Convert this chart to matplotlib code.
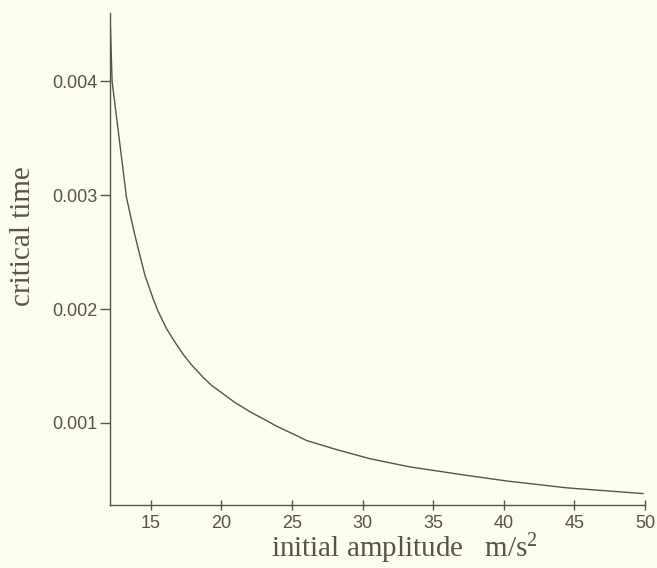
import matplotlib
matplotlib.use("Agg")
import matplotlib.pyplot as plt
from matplotlib.ticker import FixedLocator, FormatStrFormatter

# superscript in the unit label drawn in the same serif face
plt.rcParams["mathtext.fontset"] = "custom"
plt.rcParams["mathtext.rm"] = "Liberation Serif"
plt.rcParams["mathtext.it"] = "Liberation Serif"

# values
amplitude = [12.1, 12.25, 13.27, 13.86, 14.57, 15.16, 15.51, 16.1, 16.7, 17.3,
             17.88, 18.7, 19.3, 20.95, 22.0, 23.2, 23.93, 25.3, 26.05, 28.18,
             30.52, 33.35, 35.26, 36.9, 40.23, 44.48, 49.86]
crit_time = [0.00460, 0.00400, 0.00298, 0.00265, 0.00230, 0.00209, 0.00198,
             0.00183, 0.00171, 0.00160, 0.00151, 0.00140, 0.00133, 0.00118,
             0.00110, 0.00102, 0.00097, 0.00089, 0.000845, 0.000765, 0.000686,
             0.000614, 0.000579, 0.000548, 0.00049, 0.00043, 0.00038]

x_ticks = [15, 20, 25, 30, 35, 40, 45, 50]
y_ticks = [0.001, 0.002, 0.003, 0.004]

paper = "#fcfcef"
ink = "#57544a"

fig = plt.figure(figsize=(6.57, 5.68), dpi=100, facecolor=paper)
ax = fig.add_axes([0.1674, 0.111, 0.8143, 0.866])
ax.set_facecolor(paper)

ax.plot(amplitude, crit_time, color=ink, lw=1.0)

ax.set_xlim(12.1, 50)
ax.set_ylim(0.00028, 0.0046)

ax.xaxis.set_major_locator(FixedLocator(x_ticks))
ax.yaxis.set_major_locator(FixedLocator(y_ticks))
ax.yaxis.set_major_formatter(FormatStrFormatter("%.3f"))

for s in ["top", "right"]:
    ax.spines[s].set_visible(False)
for s in ["left", "bottom"]:
    ax.spines[s].set_color(ink)
    ax.spines[s].set_linewidth(1.0)

ax.tick_params(axis="both", width=1.0, color=ink, labelcolor=ink, labelsize=13)
ax.tick_params(axis="x", direction="inout", length=7, pad=4)
ax.tick_params(axis="y", direction="out", length=7, pad=2)
for lab in ax.get_xticklabels() + ax.get_yticklabels():
    lab.set_family("Liberation Sans")

fig.text(0.616, 0.004, r"initial amplitude   m/s$^{2}$", ha="center", va="bottom",
         family="Liberation Serif", fontsize=21, color=ink)
fig.text(0.035, 0.5845, "critical time", ha="center", va="center", rotation=90,
         family="Liberation Serif", fontsize=21, color=ink)

fig.savefig("out.png", dpi=100, facecolor=paper)
